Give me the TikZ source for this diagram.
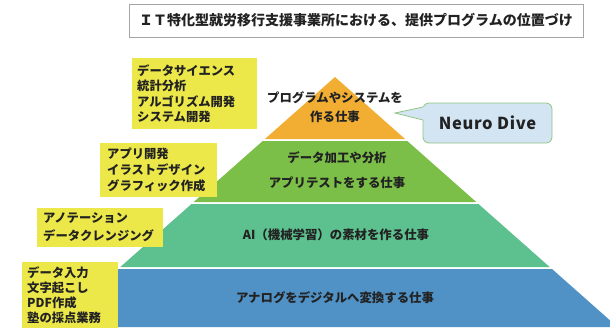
\documentclass[tikz,border=0pt]{standalone}
\usepackage{fontspec}
\setmainfont{Noto Sans CJK JP}
\definecolor{orangeL}{HTML}{F1AE33}
\definecolor{greenL}{HTML}{7BBF48}
\definecolor{tealL}{HTML}{5DC08F}
\definecolor{blueL}{HTML}{5091C6}
\definecolor{yel}{HTML}{EDE84A}
\definecolor{callfill}{HTML}{D3E5F2}
\definecolor{callline}{HTML}{8FC585}
\definecolor{titleline}{HTML}{A5A5A5}
\definecolor{txt}{HTML}{222222}
\begin{document}
\begin{tikzpicture}[x=1pt,y=-1pt,
  every node/.style={inner sep=0pt,text=txt},
  ybox/.style={fill=yel,draw=none},
  ytext/.style={anchor=north west,align=left,font=\fontsize{12.3}{15.5}\selectfont\bfseries},
  ptext/.style={align=center,font=\fontsize{12.4}{19}\selectfont\bfseries},
  titlebox/.style={draw=titleline,line width=0.9pt,fill=white,minimum width=454pt,minimum height=33pt,font=\fontsize{14}{16}\selectfont\bfseries},
  callbox/.style={draw=callline,line width=0.8pt,fill=callfill,rounded corners=6pt,minimum width=129pt,minimum height=40pt,font=\fontsize{16.5}{18}\selectfont\bfseries\addfontfeatures{LetterSpace=4}}
]
\useasboundingbox (0,0) rectangle (610,327);
\clip (0,0) rectangle (610,327);

% title
\node[titlebox] (title) at (356,20.5) {ＩＴ特化型就労移行支援事業所における、提供プログラムの位置づけ};

% pyramid layers
\fill[orangeL] (335,77) -- (405.1,139) -- (264.9,139) -- cycle;
\fill[greenL] (262.7,141) -- (407.3,141) -- (476.25,202) -- (193.75,202) -- cycle;
\fill[tealL] (191.5,204) -- (478.5,204) -- (549.7,267) -- (120.3,267) -- cycle;
\fill[blueL] (118,269) -- (552,269) -- (617.5,327) -- (52.5,327) -- cycle;

% pyramid texts
\node[ptext] (t1) at (335,107.5) {プログラムやシステムを\\作る仕事};
\node[ptext,font=\fontsize{12.4}{25}\selectfont\bfseries] (t2) at (337,170.5) {データ加工や分析\\アプリテストをする仕事};
\node[ptext] (t3) at (336,235) {AI（機械学習）の素材を作る仕事};
\node[ptext] (t4) at (335,298) {アナログをデジタルへ変換する仕事};

% yellow boxes
\fill[yel] (132,58) rectangle (257,129);
\node[ytext] (y1) at (137,64) {データサイエンス\\統計分析\\アルゴリズム開発\\システム開発};
\fill[yel] (100,143) rectangle (217,197);
\node[ytext,font=\fontsize{12.3}{16}\selectfont\bfseries] (y2) at (107,147.5) {アプリ開発\\イラストデザイン\\グラフィック作成};
\fill[yel] (37,208) rectangle (163,247);
\node[ytext,font=\fontsize{12.3}{18.3}\selectfont\bfseries] (y3) at (43,212.5) {アノテーション\\データクレンジング};
\fill[yel] (22,262) rectangle (118,330);
\node[ytext,font=\fontsize{12.3}{15.3}\selectfont\bfseries] (y4) at (27,266) {データ入力\\文字起こし\\PDF作成\\塾の採点業務};

% callout
\node[callbox] (nd) at (487.5,123) {Neuro Dive};
\coordinate (tip) at (395,113);
\coordinate (ta) at (423,107);
\coordinate (tb) at (423,120);
\fill[callfill] (tip) -- ([xshift=1.2pt]ta) -- ([xshift=1.2pt]tb) -- cycle;
\draw[callline,line width=0.8pt,line join=miter] (ta) -- (tip) -- (tb);
\end{tikzpicture}
\end{document}
